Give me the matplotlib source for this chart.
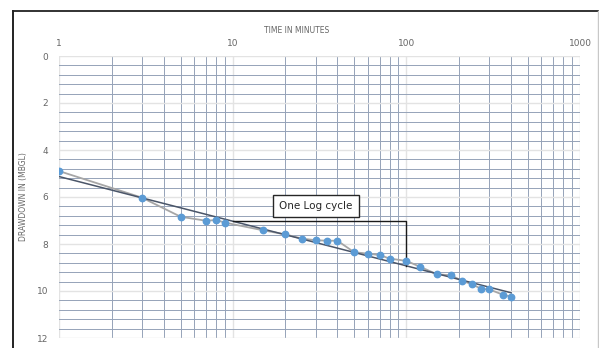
import numpy as np
import matplotlib
matplotlib.use("Agg")
import matplotlib.pyplot as plt
from matplotlib.lines import Line2D
from matplotlib.ticker import FixedLocator, NullFormatter, MultipleLocator

# Data (time in minutes, drawdown in m bgl)
time_min = [1, 3, 5, 7, 8, 9, 15, 20, 25, 30, 35, 40, 50, 60, 70, 80, 100,
            120, 150, 180, 210, 240, 270, 300, 360, 400]
drawdown = [4.90, 6.03, 6.84, 7.01, 6.98, 7.09, 7.42, 7.59, 7.77, 7.84, 7.86,
            7.86, 8.35, 8.41, 8.47, 8.62, 8.72, 8.97, 9.29, 9.33, 9.57, 9.72,
            9.91, 9.93, 10.16, 10.24]
x_ticks = [1, 10, 100, 1000]
x_tick_labels = ["1", "10", "100", "1000"]
y_ticks = [0, 2, 4, 6, 8, 10, 12]
annotation_text = "One Log cycle"
bracket_t = [10, 100]

fig = plt.figure(figsize=(5.99, 3.48), dpi=100)
fig.patch.set_facecolor("white")
ax = fig.add_axes([59.3 / 599, 1 - 338 / 348, (580 - 59.3) / 599, (338 - 56) / 348])

ax.set_xscale("log")
ax.set_xlim(1, 1000)
ax.set_ylim(12, 0)

ax.xaxis.set_ticks_position("top")
ax.xaxis.set_label_position("top")
ax.set_xticks(x_ticks)
ax.set_xticklabels(x_tick_labels)
minor_x = [m * 10 ** e for e in range(0, 3) for m in range(2, 10)]
ax.xaxis.set_minor_locator(FixedLocator(minor_x))
ax.xaxis.set_minor_formatter(NullFormatter())
ax.set_yticks(y_ticks)
ax.yaxis.set_minor_locator(MultipleLocator(0.4))

ax.tick_params(which="both", length=0)
ax.tick_params(axis="x", which="major", pad=6, labelsize=6.5, labelcolor="#666666")
ax.tick_params(axis="y", which="major", pad=8, labelsize=6.5, labelcolor="#666666")

for s in ax.spines.values():
    s.set_visible(False)

ax.grid(which="major", color="#e3e3e3", lw=1.0, zorder=0)
ax.grid(which="minor", color="#95a3b8", lw=0.7, zorder=0)
ax.set_axisbelow(True)

ax.set_xlabel("TIME IN MINUTES", fontsize=5.5, color="#666666", labelpad=4)
ax.xaxis.label.set_x(0.455)
ax.set_ylabel("DRAWDOWN IN (MBGL)", fontsize=5.5, color="#666666", labelpad=6)

# data series
ax.plot(time_min, drawdown, color="#a6a6a6", lw=1.3, zorder=3)
ax.plot(time_min, drawdown, ls="none", marker="o", ms=4.6, color="#5b9bd5",
        zorder=5)

# logarithmic trendline
lt = np.log10(time_min)
slope, intercept = np.polyfit(lt, drawdown, 1)
t_line = np.array([time_min[0], time_min[-1]])
ax.plot(t_line, intercept + slope * np.log10(t_line), color="#4a5568", lw=1.1,
        zorder=4)

# one log cycle bracket
d_top = intercept + slope * np.log10(bracket_t[0])
d_bot = intercept + slope * np.log10(bracket_t[1])
ax.plot([bracket_t[0], bracket_t[1], bracket_t[1]], [d_top, d_top, d_bot],
        color="#1a1a1a", lw=1.0, zorder=4)
ax.text(10 ** ((316 - 59.3) / 173.7), 6.38, annotation_text, fontsize=7.5,
        color="#262626", ha="center", va="center", zorder=6,
        bbox=dict(boxstyle="square,pad=0.6", fc="white", ec="#262626", lw=1.0))

# outer frame
fig.add_artist(Line2D([12.5 / 599, 12.5 / 599], [0, 1 - 10.5 / 348],
                      color="#111111", lw=1.3, transform=fig.transFigure))
fig.add_artist(Line2D([12.5 / 599, 597.5 / 599], [1 - 10.5 / 348, 1 - 10.5 / 348],
                      color="#222222", lw=1.3, transform=fig.transFigure))
fig.add_artist(Line2D([597.5 / 599, 597.5 / 599], [0, 1 - 10.5 / 348],
                      color="#c8c8c8", lw=1.0, transform=fig.transFigure))

fig.savefig("out.png", dpi=100, facecolor="white")
